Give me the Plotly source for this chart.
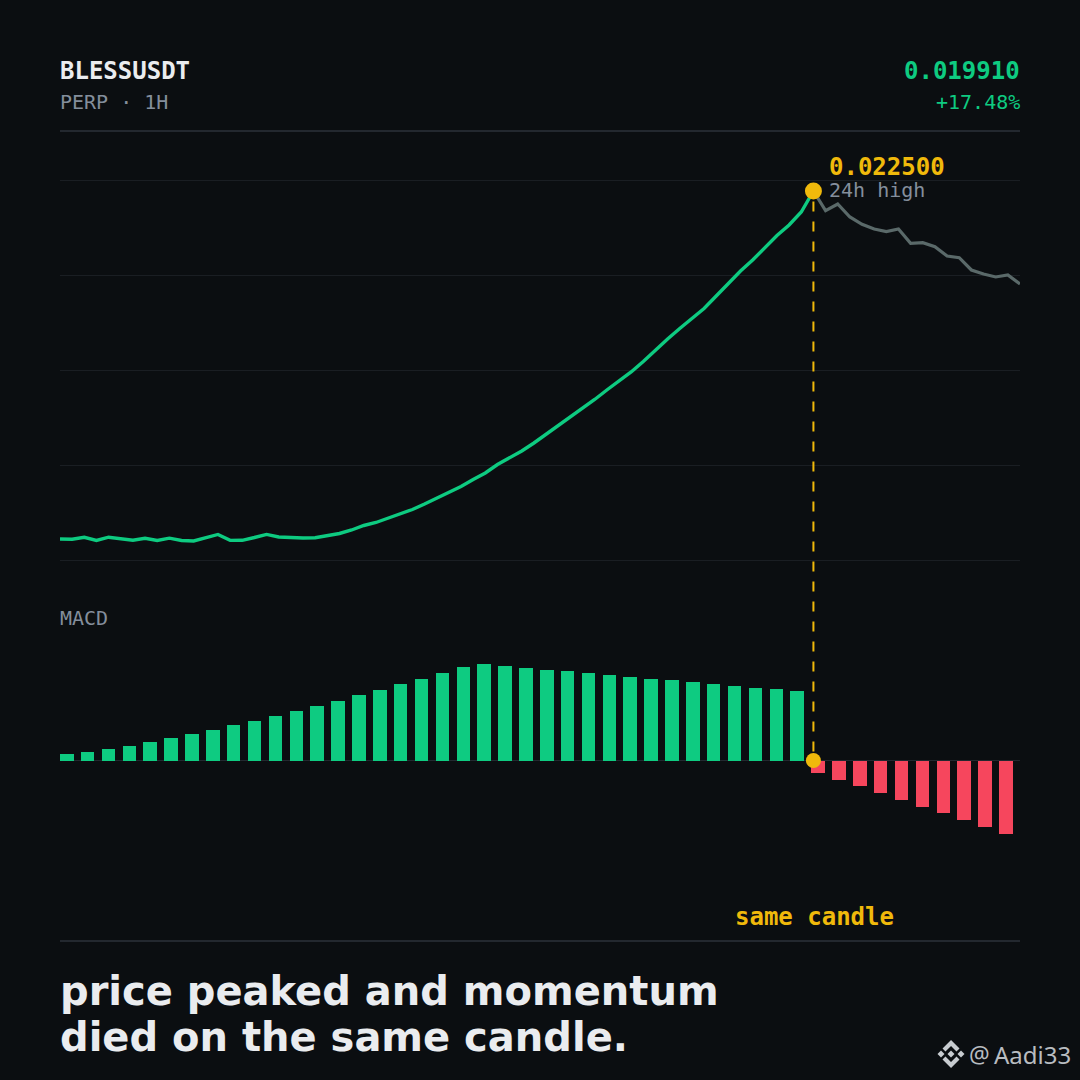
import plotly.graph_objects as go

BG = "#0B0E11"
GREEN = "#0ECB81"
RED = "#F6465D"
GOLD = "#F0B90B"
GREY = "#848E9C"
FADED = "#5A6969"
WHITE = "#EAECEF"
GRID = "#1A1E23"
RULE = "#23282F"
MONO = "DejaVu Sans Mono"
SIZE = 1080

# price, one point per candle
price_up = [
    0.012808, 0.012800, 0.012856, 0.012769, 0.012858, 0.012822, 0.012772, 0.012828,
    0.012767, 0.012830, 0.012767, 0.012752, 0.012836, 0.012934, 0.012769, 0.012772,
    0.012850, 0.012936, 0.012864, 0.012842, 0.012836, 0.012844, 0.012892, 0.012961,
    0.013059, 0.013184, 0.013268, 0.013393, 0.013518, 0.013630, 0.013783, 0.013950,
    0.014117, 0.014270, 0.014465, 0.014646, 0.014883, 0.015064, 0.015259, 0.015482,
    0.015719, 0.015969, 0.016206, 0.016443, 0.016693, 0.016958, 0.017208, 0.017459,
    0.017752, 0.018072, 0.018378, 0.018671, 0.018949, 0.019228, 0.019576, 0.019924,
    0.020272, 0.020578, 0.020913, 0.021261, 0.021553, 0.021915, 0.022500,
]
price_down = [
    0.022500, 0.021951, 0.022138, 0.021776, 0.021573, 0.021442, 0.021367, 0.021442,
    0.021043, 0.021060, 0.020949, 0.020690, 0.020642, 0.020300, 0.020188, 0.020105,
    0.020161, 0.019910,
]
price_grid = [0.022806, 0.020147, 0.017501, 0.014855, 0.012210]

# MACD histogram, in millionths
macd_up = [
    6.5, 8.5, 11.5, 14.5, 18.5, 22.5, 26.5, 30.5, 35.5, 39.5, 44.5, 49.5,
    54.5, 59.5, 65.5, 70.5, 76.5, 81.5, 87.5, 93.5, 96.5, 94.5, 92.5, 90.5,
    89.5, 87.5, 85.5, 83.5, 81.5, 80.5, 78.5, 76.5, 74.5, 72.5, 71.5, 69.5,
]
macd_down = [-12.5, -19.5, -25.5, -32.5, -39.5, -46.5, -52.5, -59.5, -66.5, -73.5]

peak_idx = len(price_up) - 1
n_candles = len(price_up) + len(price_down) - 1
macd = macd_up + macd_down


def _px(x, y):
    return x / SIZE, 1 - y / SIZE


def _label(text, x, y, size, color, anchor="left", bold=False, family=MONO):
    px, py = _px(x, y)
    fig.add_annotation(
        text=f"<b>{text}</b>" if bold else text,
        x=px,
        y=py,
        xref="paper",
        yref="paper",
        xanchor=anchor,
        yanchor="middle",
        showarrow=False,
        borderpad=0,
        borderwidth=0,
        font=dict(family=family, size=size, color=color),
    )


def _rule(y):
    x0, py = _px(60, y)
    x1, _ = _px(1020, y)
    fig.add_shape(type="line", xref="paper", yref="paper", x0=x0, x1=x1, y0=py, y1=py,
                  line=dict(color=RULE, width=2))


def _poly(points):
    coords = [_px(x, y) for x, y in points]
    return "M" + " L".join(f"{x:.5f},{y:.5f}" for x, y in coords) + " Z"


fig = go.Figure()

fig.add_trace(go.Scatter(
    x=list(range(peak_idx, n_candles)),
    y=price_down,
    mode="lines",
    line=dict(color=FADED, width=3.2),
))
fig.add_trace(go.Scatter(
    x=list(range(len(price_up))),
    y=price_up,
    mode="lines",
    line=dict(color=GREEN, width=3.4),
))
fig.add_trace(go.Scatter(
    x=[peak_idx],
    y=[price_up[peak_idx]],
    mode="markers",
    marker=dict(color=GOLD, size=17),
    cliponaxis=False,
))
fig.add_trace(go.Bar(
    x=list(range(len(macd))),
    y=macd,
    xaxis="x2",
    yaxis="y2",
    width=0.647,
    offset=0,
    marker=dict(color=[GREEN] * len(macd_up) + [RED] * len(macd_down), line=dict(width=0)),
))
# same candle on the MACD axis, which has its own x scale
fig.add_trace(go.Scatter(
    x=[peak_idx / (n_candles - 1) * len(macd)],
    y=[0],
    xaxis="x2",
    yaxis="y2",
    mode="markers",
    marker=dict(color=GOLD, size=15),
    cliponaxis=False,
))

# dashed link from the price peak down to the MACD flip
fig.add_shape(type="line", xref="x", yref="paper", x0=peak_idx, x1=peak_idx,
              y0=_px(0, 201.5)[1], y1=_px(0, 760)[1],
              line=dict(color=GOLD, width=2, dash="10px,10px"))

_rule(131)
_rule(941)

# binance mark next to the handle
logo = [
    [(951, 1050.5), (954.5, 1054), (951, 1057.5), (947.5, 1054)],
    [(941, 1050.5), (944.5, 1054), (941, 1057.5), (937.5, 1054)],
    [(961, 1050.5), (964.5, 1054), (961, 1057.5), (957.5, 1054)],
    [(951, 1040), (959.5, 1048.5), (956.5, 1051.5), (951, 1046), (945.5, 1051.5), (942.5, 1048.5)],
    [(951, 1068), (959.5, 1059.5), (956.5, 1056.5), (951, 1062), (945.5, 1056.5), (942.5, 1059.5)],
]
for part in logo:
    fig.add_shape(type="path", xref="paper", yref="paper", path=_poly(part),
                  fillcolor="#C8CCD0", line=dict(width=0))

_label("BLESSUSDT", 60, 71, 24, WHITE, bold=True)
_label("PERP · 1H", 60, 102, 20, GREY)
_label("0.019910", 1020, 71, 24, GREEN, anchor="right", bold=True)
_label("+17.48%", 1020, 102, 20, GREEN, anchor="right")
_label("0.022500", 829, 167, 24, GOLD, bold=True)
_label("24h high", 829, 190, 20, GREY)
_label("MACD", 60, 618, 20, GREY)
_label("same candle", 814, 917, 24, GOLD, anchor="center", bold=True)
_label("price peaked and momentum", 60, 991, 40, WHITE, bold=True, family="DejaVu Sans")
_label("died on the same candle.", 60, 1037, 40, WHITE, bold=True, family="DejaVu Sans")
_label("@", 969, 1054, 23, "#B8BCC0", family="Noto Sans")
_label("Aadi33", 1071, 1054, 24, "#B8BCC0", anchor="right", family="Noto Sans")

x_dom = [60 / SIZE, 1020 / SIZE]
hidden = dict(showticklabels=False, ticks="", showline=False, zeroline=False, showgrid=False)

fig.update_layout(
    width=SIZE,
    height=SIZE,
    margin=dict(l=0, r=0, t=0, b=0),
    paper_bgcolor=BG,
    plot_bgcolor="rgba(0,0,0,0)",
    showlegend=False,
    bargap=0,
    xaxis=dict(domain=x_dom, range=[0, n_candles - 1], **hidden),
    xaxis2=dict(domain=x_dom, range=[0, len(macd)], anchor="y2", **hidden),
    yaxis=dict(
        domain=[1 - 580 / SIZE, 1 - 140 / SIZE],
        range=[0.011666, 0.023920],
        showticklabels=False,
        ticks="",
        showline=False,
        zeroline=False,
        tickvals=price_grid,
        gridcolor=GRID,
        gridwidth=1,
    ),
    yaxis2=dict(
        domain=[1 - 900 / SIZE, 1 - 600 / SIZE],
        range=[-139.5, 160.5],
        anchor="x2",
        showticklabels=False,
        ticks="",
        showline=False,
        showgrid=False,
        zeroline=True,
        zerolinecolor=RULE,
        zerolinewidth=1,
    ),
)

# the page's default body margin would push the figure off by 8px
fig.write_html(
    "out.html",
    config={"displayModeBar": False},
    post_script="document.body.style.margin = '0';",
)
